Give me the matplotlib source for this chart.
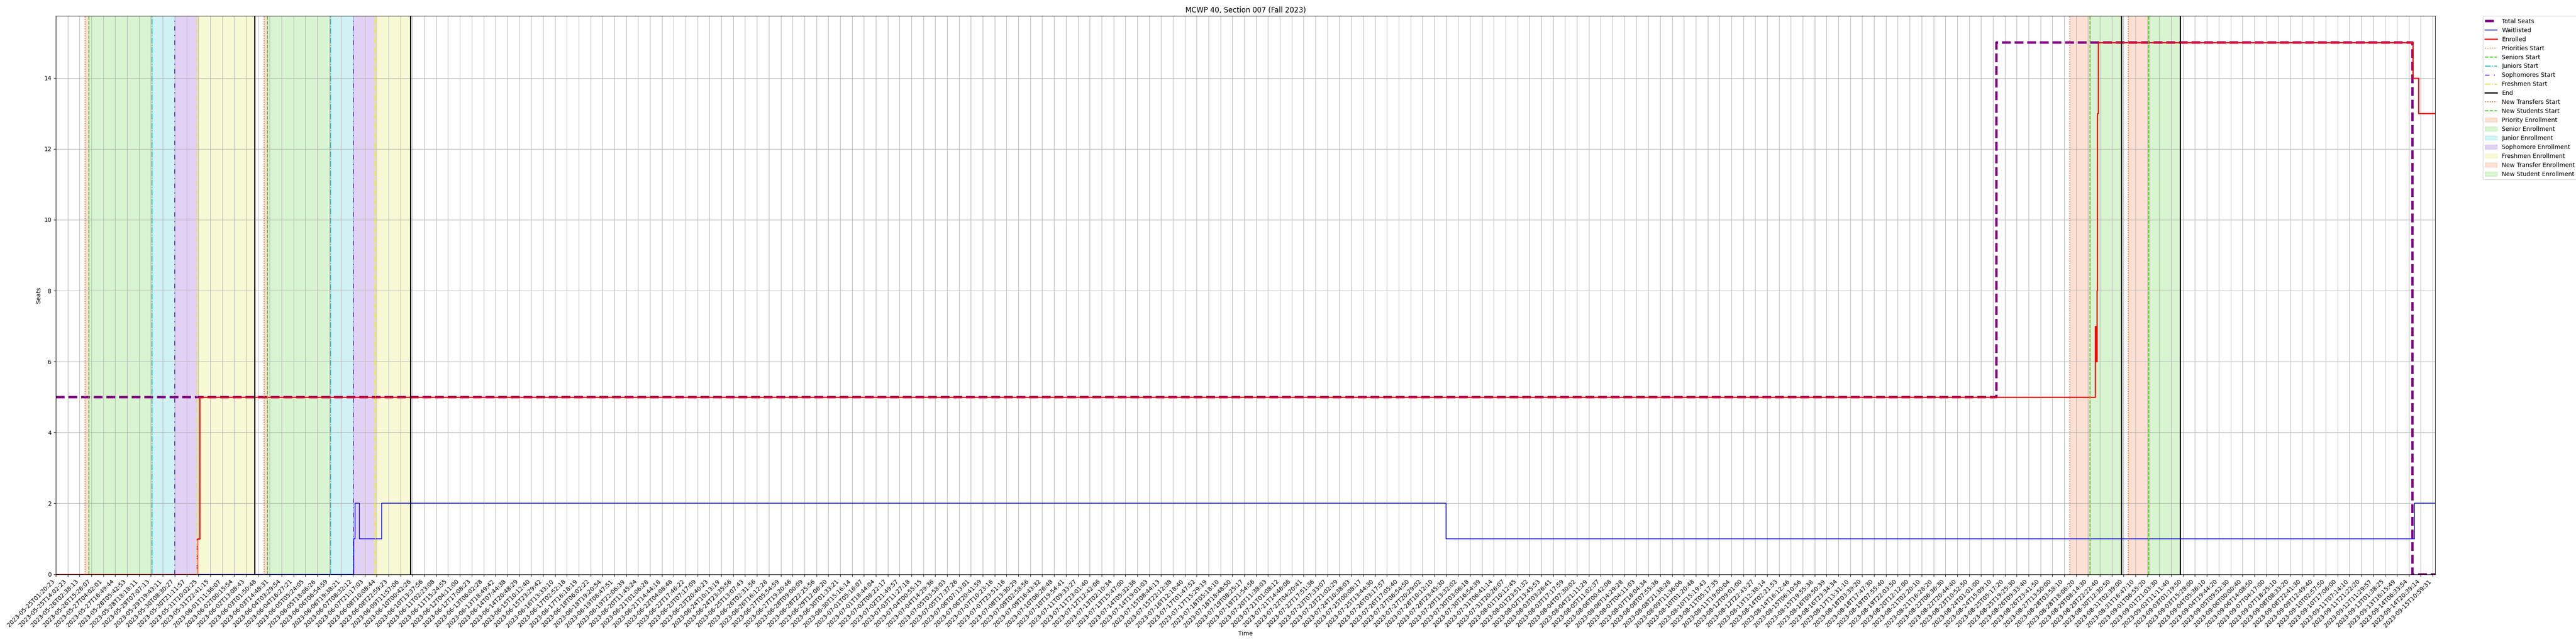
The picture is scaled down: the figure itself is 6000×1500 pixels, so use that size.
import numpy as np
import pandas as pd
import matplotlib
matplotlib.use("Agg")
import matplotlib.pyplot as plt

# --- data ---
title = "MCWP 40, Section 007 (Fall 2023)"

tick_times = [
    "2023-05-25T01:20:23", "2023-05-25T14:02:23", "2023-05-26T02:38:13", "2023-05-26T15:26:07",
    "2023-05-27T04:02:01", "2023-05-27T16:49:44", "2023-05-28T05:42:53", "2023-05-28T18:18:11",
    "2023-05-29T07:07:13", "2023-05-29T19:43:11", "2023-05-30T08:30:27", "2023-05-30T21:11:57",
    "2023-05-31T10:02:25", "2023-05-31T22:41:15", "2023-06-01T11:36:07", "2023-06-02T00:15:54",
    "2023-06-02T13:08:43", "2023-06-03T01:50:48", "2023-06-03T14:48:31", "2023-06-04T03:29:54",
    "2023-06-04T16:27:21", "2023-06-05T05:24:05", "2023-06-05T18:06:26", "2023-06-06T06:54:59",
    "2023-06-06T19:38:21", "2023-06-07T08:32:12", "2023-06-07T21:17:03", "2023-06-08T10:08:44",
    "2023-06-08T22:59:23", "2023-06-09T11:57:06", "2023-06-10T00:42:26", "2023-06-10T13:37:56",
    "2023-06-11T02:23:08", "2023-06-11T15:24:55", "2023-06-12T04:11:00", "2023-06-12T17:08:23",
    "2023-06-13T06:02:28", "2023-06-13T18:49:42", "2023-06-14T07:44:38", "2023-06-14T20:48:29",
    "2023-06-15T10:12:40", "2023-06-15T23:29:42", "2023-06-16T13:33:10", "2023-06-17T02:52:18",
    "2023-06-17T16:18:19", "2023-06-18T06:02:22", "2023-06-18T19:20:54", "2023-06-19T08:47:51",
    "2023-06-19T22:06:39", "2023-06-20T11:45:24", "2023-06-21T01:06:28", "2023-06-21T14:44:18",
    "2023-06-22T04:08:48", "2023-06-22T17:46:22", "2023-06-23T07:17:09", "2023-06-23T20:40:23",
    "2023-06-24T10:13:19", "2023-06-24T23:35:56", "2023-06-25T13:07:43", "2023-06-26T02:31:56",
    "2023-06-26T16:12:28", "2023-06-27T05:54:59", "2023-06-27T19:20:46", "2023-06-28T09:00:09",
    "2023-06-28T22:25:56", "2023-06-29T12:06:20", "2023-06-30T01:33:21", "2023-06-30T15:16:14",
    "2023-07-01T05:16:07", "2023-07-01T18:44:04", "2023-07-02T08:22:17", "2023-07-02T21:49:57",
    "2023-07-03T11:27:18", "2023-07-04T00:55:15", "2023-07-04T14:29:36", "2023-07-05T03:58:03",
    "2023-07-05T17:37:26", "2023-07-06T07:13:01", "2023-07-06T20:41:59", "2023-07-07T10:23:16",
    "2023-07-07T23:51:16", "2023-07-08T13:30:29", "2023-07-09T02:58:56", "2023-07-09T16:43:32",
    "2023-07-10T06:26:48", "2023-07-10T19:54:41", "2023-07-11T09:33:27", "2023-07-11T23:01:40",
    "2023-07-12T12:42:06", "2023-07-13T02:10:34", "2023-07-13T15:47:00", "2023-07-14T05:32:36",
    "2023-07-14T19:01:03", "2023-07-15T08:44:13", "2023-07-15T22:12:38", "2023-07-16T12:18:40",
    "2023-07-17T01:47:52", "2023-07-17T15:29:19", "2023-07-18T05:18:10", "2023-07-18T18:48:50",
    "2023-07-19T08:25:17", "2023-07-19T21:54:56", "2023-07-20T11:38:03", "2023-07-21T01:08:12",
    "2023-07-21T14:46:06", "2023-07-22T04:20:41", "2023-07-22T17:51:36", "2023-07-23T07:33:07",
    "2023-07-23T21:02:29", "2023-07-24T10:38:03", "2023-07-25T00:08:17", "2023-07-25T13:44:30",
    "2023-07-26T03:17:57", "2023-07-26T17:05:40", "2023-07-27T06:54:50", "2023-07-27T20:29:02",
    "2023-07-28T10:12:10", "2023-07-28T23:45:30", "2023-07-29T13:32:02", "2023-07-30T03:06:18",
    "2023-07-30T16:54:39", "2023-07-31T06:41:14", "2023-07-31T20:26:07", "2023-08-01T10:12:45",
    "2023-08-01T23:51:32", "2023-08-02T13:45:53", "2023-08-03T03:26:41", "2023-08-03T17:17:59",
    "2023-08-04T07:30:02", "2023-08-04T21:11:29", "2023-08-05T11:02:37", "2023-08-06T00:42:08",
    "2023-08-06T14:29:28", "2023-08-07T04:11:03", "2023-08-07T18:04:34", "2023-08-08T07:55:36",
    "2023-08-08T21:38:28", "2023-08-09T11:36:06", "2023-08-10T01:20:48", "2023-08-10T15:19:43",
    "2023-08-11T05:17:35", "2023-08-11T19:00:04", "2023-08-12T09:01:00", "2023-08-12T22:43:27",
    "2023-08-13T12:38:14", "2023-08-14T02:21:53", "2023-08-14T16:12:46", "2023-08-15T06:10:56",
    "2023-08-15T19:55:38", "2023-08-16T09:50:39", "2023-08-16T23:34:34", "2023-08-17T13:31:10",
    "2023-08-18T03:39:20", "2023-08-18T17:47:30", "2023-08-19T07:55:40", "2023-08-19T22:03:50",
    "2023-08-20T12:12:00", "2023-08-21T02:20:10", "2023-08-21T16:28:20", "2023-08-22T06:36:30",
    "2023-08-22T20:44:40", "2023-08-23T10:52:50", "2023-08-24T01:01:00", "2023-08-24T15:09:10",
    "2023-08-25T05:17:20", "2023-08-25T19:25:30", "2023-08-26T09:33:40", "2023-08-26T23:41:50",
    "2023-08-27T13:50:00", "2023-08-28T03:58:10", "2023-08-28T18:06:20", "2023-08-29T08:14:30",
    "2023-08-29T22:22:40", "2023-08-30T12:30:50", "2023-08-31T02:39:00", "2023-08-31T16:47:10",
    "2023-09-01T06:55:20", "2023-09-01T21:03:30", "2023-09-02T11:11:40", "2023-09-03T01:19:50",
    "2023-09-03T15:28:00", "2023-09-04T05:36:10", "2023-09-04T19:44:20", "2023-09-05T09:52:30",
    "2023-09-06T00:00:40", "2023-09-06T14:08:50", "2023-09-07T04:17:00", "2023-09-07T18:25:10",
    "2023-09-08T08:33:20", "2023-09-08T22:41:30", "2023-09-09T12:49:40", "2023-09-10T02:57:50",
    "2023-09-10T17:06:00", "2023-09-11T07:14:10", "2023-09-11T21:22:20", "2023-09-12T11:29:57",
    "2023-09-13T01:38:25", "2023-09-13T16:15:49", "2023-09-14T06:33:54", "2023-09-14T20:39:14",
    "2023-09-15T10:59:31",
]
data_end = "2023-09-15T14:05:00"

total_times = ["2023-05-25T01:20:23", "2023-08-24T19:23:00", "2023-09-14T10:46:00"]
total_vals = [5, 15, 0]

waitlist_times = ["2023-05-25T01:20:23", "2023-06-07T09:18:00", "2023-06-07T10:42:00",
                  "2023-06-07T15:39:00", "2023-06-08T15:40:00", "2023-07-28T23:30:00",
                  "2023-09-14T13:20:00"]
waitlist_vals = [0, 1, 2, 1, 2, 1, 2]

enrolled_times = ["2023-05-25T01:20:23", "2023-05-31T08:36:00", "2023-05-31T11:25:00",
                  "2023-08-29T16:43:00", "2023-08-29T17:51:00", "2023-08-29T18:50:00",
                  "2023-08-29T19:16:00", "2023-08-29T20:24:00", "2023-09-14T11:20:00",
                  "2023-09-14T17:50:00"]
enrolled_vals = [0, 1, 5, 7, 6, 8, 13, 15, 14, 13]

# priority, seniors, juniors, sophomores, freshmen, end
pass1_times = ["2023-05-26T08:30:00", "2023-05-26T12:38:00", "2023-05-29T08:15:00",
               "2023-05-30T08:35:00", "2023-05-31T08:36:00", "2023-06-02T22:23:00"]
pass2_times = ["2023-06-03T08:32:00", "2023-06-03T12:21:00", "2023-06-06T08:25:00",
               "2023-06-07T09:02:00", "2023-06-08T08:36:00", "2023-06-09T22:40:00"]
# new transfers, new students, end
new1_times = ["2023-08-28T10:37:00", "2023-08-29T10:38:00", "2023-08-30T23:49:00"]
new2_times = ["2023-08-31T08:18:00", "2023-09-01T08:20:00", "2023-09-02T21:56:00"]

start_labels = ["Priorities Start", "Seniors Start", "Juniors Start", "Sophomores Start", "Freshmen Start"]
span_labels = ["Priority Enrollment", "Senior Enrollment", "Junior Enrollment",
               "Sophomore Enrollment", "Freshmen Enrollment"]
colors = ["#f0662a", "#3dcc14", "#17c0d0", "#6a22cf", "#dede30"]
styles = [":", "--", "-.", (0, (5, 5, 1, 5)), "-."]

# --- map times onto the tick index axis ---
tick_s = pd.to_datetime(tick_times).astype("int64").to_numpy() / 1e9
idx = np.arange(len(tick_times))


def to_pos(times):
    s = pd.to_datetime(times).astype("int64").to_numpy() / 1e9
    p = np.interp(s, tick_s, idx)
    over = s > tick_s[-1]
    p[over] = idx[-1] + (s[over] - tick_s[-1]) / (tick_s[-1] - tick_s[-2])
    return p


end_pos = to_pos([data_end])[0]


def step_xy(times, vals):
    x = np.append(to_pos(times), end_pos)
    y = np.append(vals, vals[-1])
    return x, y


fig = plt.figure(figsize=(60, 15), dpi=100)
ax = fig.add_axes([0.02167, 0.10833, 0.92367, 0.86687])

x, y = step_xy(total_times, total_vals)
ax.step(x, y, where="post", color="purple", lw=4, ls="--", label="Total Seats")
x, y = step_xy(waitlist_times, waitlist_vals)
ax.step(x, y, where="post", color="blue", lw=1.2, label="Waitlisted")
x, y = step_xy(enrolled_times, enrolled_vals)
ax.step(x, y, where="post", color="red", lw=2, label="Enrolled")

passes = [to_pos(pass1_times), to_pos(pass2_times)]
news = [to_pos(new1_times), to_pos(new2_times)]

# start / end lines
for n, p in enumerate(passes):
    for i in range(5):
        ax.axvline(p[i], color=colors[i], ls=styles[i], lw=1.5,
                   label=start_labels[i] if n == 0 else None)
    ax.axvline(p[5], color="black", lw=2, label="End" if n == 0 else None)
for n, p in enumerate(news):
    ax.axvline(p[0], color=colors[0], ls=":", lw=1.5, label="New Transfers Start" if n == 0 else None)
    ax.axvline(p[1], color=colors[1], ls="--", lw=1.5, label="New Students Start" if n == 0 else None)
    ax.axvline(p[2], color="black", lw=2)

# shaded enrollment windows
for n, p in enumerate(passes):
    for i in range(5):
        ax.axvspan(p[i], p[i + 1], color=colors[i], alpha=0.2,
                   label=span_labels[i] if n == 0 else None)
for n, p in enumerate(news):
    ax.axvspan(p[0], p[1], color=colors[0], alpha=0.2, label="New Transfer Enrollment" if n == 0 else None)
    ax.axvspan(p[1], p[2], color=colors[1], alpha=0.2, label="New Student Enrollment" if n == 0 else None)

ax.set_xticks(idx)
ax.set_xticklabels(tick_times, rotation=45, ha="right")
ax.set_xlim(0, end_pos)
ax.set_ylim(bottom=0)
ax.grid(True)
ax.set_xlabel("Time")
ax.set_ylabel("Seats")
ax.set_title(title)
ax.legend(loc="upper left", bbox_to_anchor=(1.02, 1), borderaxespad=0)

fig.savefig("out.png")
